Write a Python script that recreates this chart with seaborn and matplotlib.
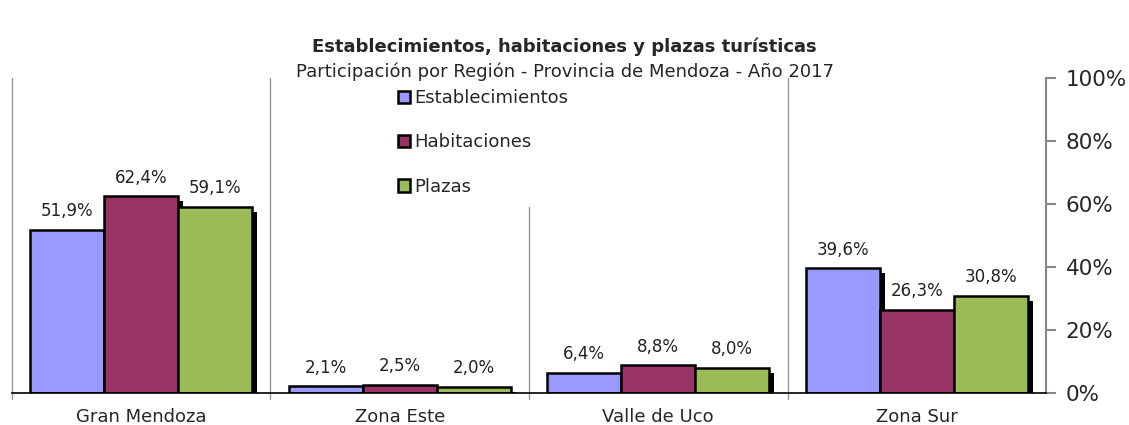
import pandas as pd
import matplotlib
matplotlib.use("Agg")
import matplotlib.pyplot as plt
import matplotlib.patheffects as pe
import seaborn as sns

regiones = ["Gran Mendoza", "Zona Este", "Valle de Uco", "Zona Sur"]
establecimientos = [51.9, 2.1, 6.4, 39.6]
habitaciones = [62.4, 2.5, 8.8, 26.3]
plazas = [59.1, 2.0, 8.0, 30.8]
series = ["Establecimientos", "Habitaciones", "Plazas"]
colores = ["#9999FF", "#993366", "#9BBB59"]

data = pd.DataFrame({
    "Region": regiones * 3,
    "Serie": [s for s in series for _ in regiones],
    "Valor": establecimientos + habitaciones + plazas,
})

sns.set_style("white")
plt.rcParams['font.family'] = ['DejaVu Sans']

fig, ax = plt.subplots(figsize=(11.29, 4.25), dpi=100)
fig.subplots_adjust(left=0.0106, right=0.9265, bottom=0.0753, top=0.8165)

sns.barplot(data=data, x="Region", y="Valor", hue="Serie", order=regiones,
            hue_order=series, palette=colores, width=0.858, gap=0,
            edgecolor="black", linewidth=1.8, saturation=1, ax=ax, zorder=3)

# legend first, so the handles don't pick up the shadow
leg = ax.legend(loc="upper left", bbox_to_anchor=(0.359, 1.01), fontsize=13, frameon=False,
                handlelength=0.7, handleheight=0.7, handletextpad=0.2, labelspacing=1.45,
                borderpad=0.3)

for bar in ax.patches:
    bar.set_path_effects([pe.SimplePatchShadow(offset=(3.6, -3.6), shadow_rgbFace="black", alpha=1.0),
                          pe.Normal()])

for cont in ax.containers:
    labels = [f"{v:.1f}%".replace(".", ",") for v in cont.datavalues]
    ax.bar_label(cont, labels=labels, padding=7, fontsize=12, color="#222222")

ax.set_ylim(0, 100)
ax.set_xlim(-0.5, 3.5)
ax.yaxis.tick_right()
ax.set_yticks([0, 20, 40, 60, 80, 100])
ax.set_yticklabels([f"{t}%" for t in [0, 20, 40, 60, 80, 100]], fontsize=15.5)
ax.tick_params(axis="y", direction="out", length=7, width=1.5, color="#888888", pad=7)
ax.tick_params(axis="x", length=0, labelsize=13, pad=11)
ax.set_xlabel("")
ax.set_ylabel("")

for s in ["left", "top"]:
    ax.spines[s].set_visible(False)
ax.spines["right"].set_color("#888888")
ax.spines["right"].set_linewidth(1.5)
ax.spines["bottom"].set_color("black")
ax.spines["bottom"].set_linewidth(1.2)
ax.spines["bottom"].set_zorder(4)

for xpos, top in zip([-0.5, 0.5, 1.5, 2.5], [1, 1, 0.59, 1]):
    ax.axvline(xpos, ymin=-0.02, ymax=top, color="#999999", linewidth=1, clip_on=False, zorder=1)

fig.text(0.5, 0.889, "Establecimientos, habitaciones y plazas turísticas",
         ha="center", va="center", fontsize=13, fontweight="bold")
fig.text(0.5, 0.831, "Participación por Región - Provincia de Mendoza - Año 2017",
         ha="center", va="center", fontsize=13)

plt.savefig("out.png", dpi=100)
